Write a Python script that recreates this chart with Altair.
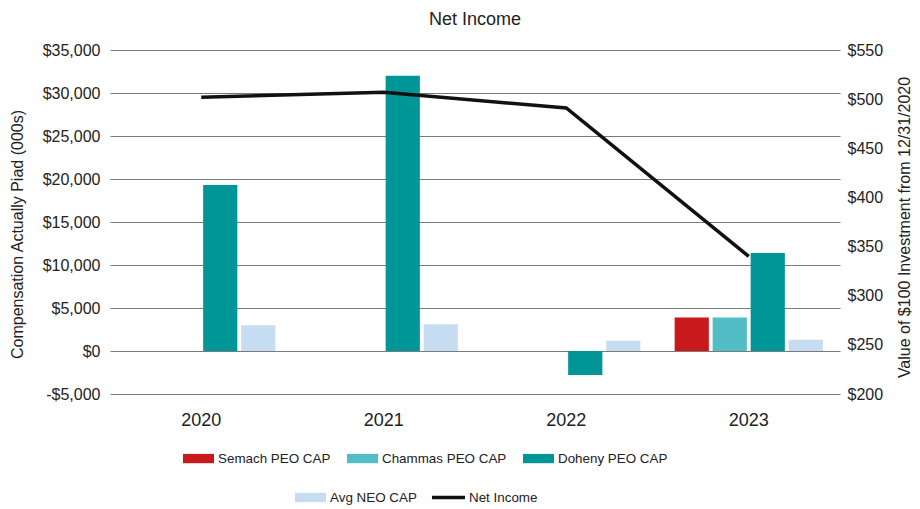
import altair as alt
import pandas as pd

years = ["2020", "2021", "2022", "2023"]
series_names = ["Semach PEO CAP", "Chammas PEO CAP", "Doheny PEO CAP", "Avg NEO CAP"]
semach = [None, None, None, 3900]
chammas = [None, None, None, 3900]
doheny = [19300, 32000, -2800, 11400]
avg_neo = [3000, 3100, 1200, 1300]
net_income = [502, 507, 491, 340]
bar_colors = ["#C8191C", "#52BDC5", "#009596", "#C6DDF1"]
line_color = "#111111"

rows = []
for name, vals in zip(series_names, [semach, chammas, doheny, avg_neo]):
    for yr, v in zip(years, vals):
        if v is not None:
            rows.append({"year": yr, "series": name, "value": v})
bars_df = pd.DataFrame(rows)
line_df = pd.DataFrame({"year": years, "ni": net_income, "label": ["Net Income"] * len(years)})

FONT = "Liberation Sans"
TXT = "#222222"

x_enc = alt.X(
    "year:N", sort=years,
    scale=alt.Scale(paddingInner=0.167, paddingOuter=0.0835),
    axis=alt.Axis(title=None, labelAngle=0, ticks=False, domain=False,
                  labelFontSize=18, labelPadding=17),
)
xoff = alt.XOffset(
    "series:N", sort=series_names,
    scale=alt.Scale(domain=series_names, paddingInner=0.1, paddingOuter=0.05),
)
y_left = alt.Y(
    "value:Q",
    scale=alt.Scale(domain=[-5000, 35000], nice=False, zero=False),
    axis=alt.Axis(
        values=list(range(-5000, 35001, 5000)),
        labelExpr="datum.value < 0 ? '-$' + format(-datum.value, ',') : '$' + format(datum.value, ',')",
        grid=True, gridColor="#7a7a7a", gridWidth=1, ticks=False, domain=False,
        labelFontSize=16, labelPadding=10,
        title="Compensation Actually Piad (000s)", titleFontSize=16, titleFontWeight="normal",
        titleX=-93, titleY=184, titleAngle=270, titleAlign="center", titleBaseline="middle",
    ),
)

rect_path = "M-1,-0.3H1V0.3H-1Z"

bars_peo = alt.Chart(bars_df).transform_filter(
    alt.FieldOneOfPredicate(field="series", oneOf=series_names[:3])
).mark_bar().encode(
    x=x_enc, xOffset=xoff, y=y_left,
    fill=alt.Fill("series:N", sort=series_names[:3],
                  scale=alt.Scale(domain=series_names[:3], range=bar_colors[:3]),
                  legend=alt.Legend(orient="none", legendX=73, legendY=393, direction="horizontal",
                                    title=None, symbolType=rect_path, symbolSize=961,
                                    symbolStrokeWidth=0, labelFontSize=13.4, labelOffset=4,
                                    columnPadding=16, padding=0)),
)

bars_neo = alt.Chart(bars_df).transform_filter(
    alt.FieldEqualPredicate(field="series", equal="Avg NEO CAP")
).mark_bar().encode(
    x=x_enc, xOffset=xoff, y=alt.Y("value:Q", scale=alt.Scale(domain=[-5000, 35000], nice=False, zero=False)),
    color=alt.Color("series:N",
                    scale=alt.Scale(domain=["Avg NEO CAP"], range=[bar_colors[3]]),
                    legend=alt.Legend(orient="none", legendX=185, legendY=432, direction="horizontal",
                                      title=None, symbolType=rect_path, symbolSize=961,
                                      symbolStrokeWidth=0, labelFontSize=13.4, labelOffset=4, padding=0)),
)

line = alt.Chart(line_df).mark_line(strokeWidth=3.5).encode(
    x=alt.X("year:N", sort=years),
    y=alt.Y("ni:Q",
            scale=alt.Scale(domain=[200, 550], nice=False, zero=False),
            axis=alt.Axis(orient="right", values=list(range(200, 551, 50)),
                          labelExpr="'$' + datum.value", grid=False, ticks=False, domain=False,
                          labelFontSize=16, labelPadding=7,
                          title="Value of $100 Investment from 12/31/2020", titleFontSize=16,
                          titleFontWeight="normal", titleX=64, titleY=177, titleAngle=270,
                          titleAlign="center", titleBaseline="middle")),
    stroke=alt.Stroke("label:N",
                      scale=alt.Scale(domain=["Net Income"], range=[line_color]),
                      legend=alt.Legend(orient="none", legendX=320, legendY=429, direction="horizontal",
                                        title=None, symbolType="stroke", symbolSize=1089,
                                        symbolStrokeWidth=3.5, labelFontSize=13.4, labelOffset=2, padding=0)),
)

chart = alt.layer(alt.layer(bars_peo, bars_neo), line).resolve_scale(
    y="independent"
).properties(
    width=730, height=344,
    autosize=alt.AutoSizeParams(type="none"),
    padding={"left": 102, "top": 42, "right": 72, "bottom": 115},
    title=alt.TitleParams("Net Income", fontSize=18, font=FONT, fontWeight="normal",
                          anchor="middle", offset=13, color=TXT),
).configure_view(strokeWidth=0).configure_axis(
    labelFont=FONT, titleFont=FONT, labelColor=TXT, titleColor=TXT
).configure_legend(labelFont=FONT, labelColor=TXT)

chart.save("out.html", embed_options={"renderer": "svg", "actions": False})
